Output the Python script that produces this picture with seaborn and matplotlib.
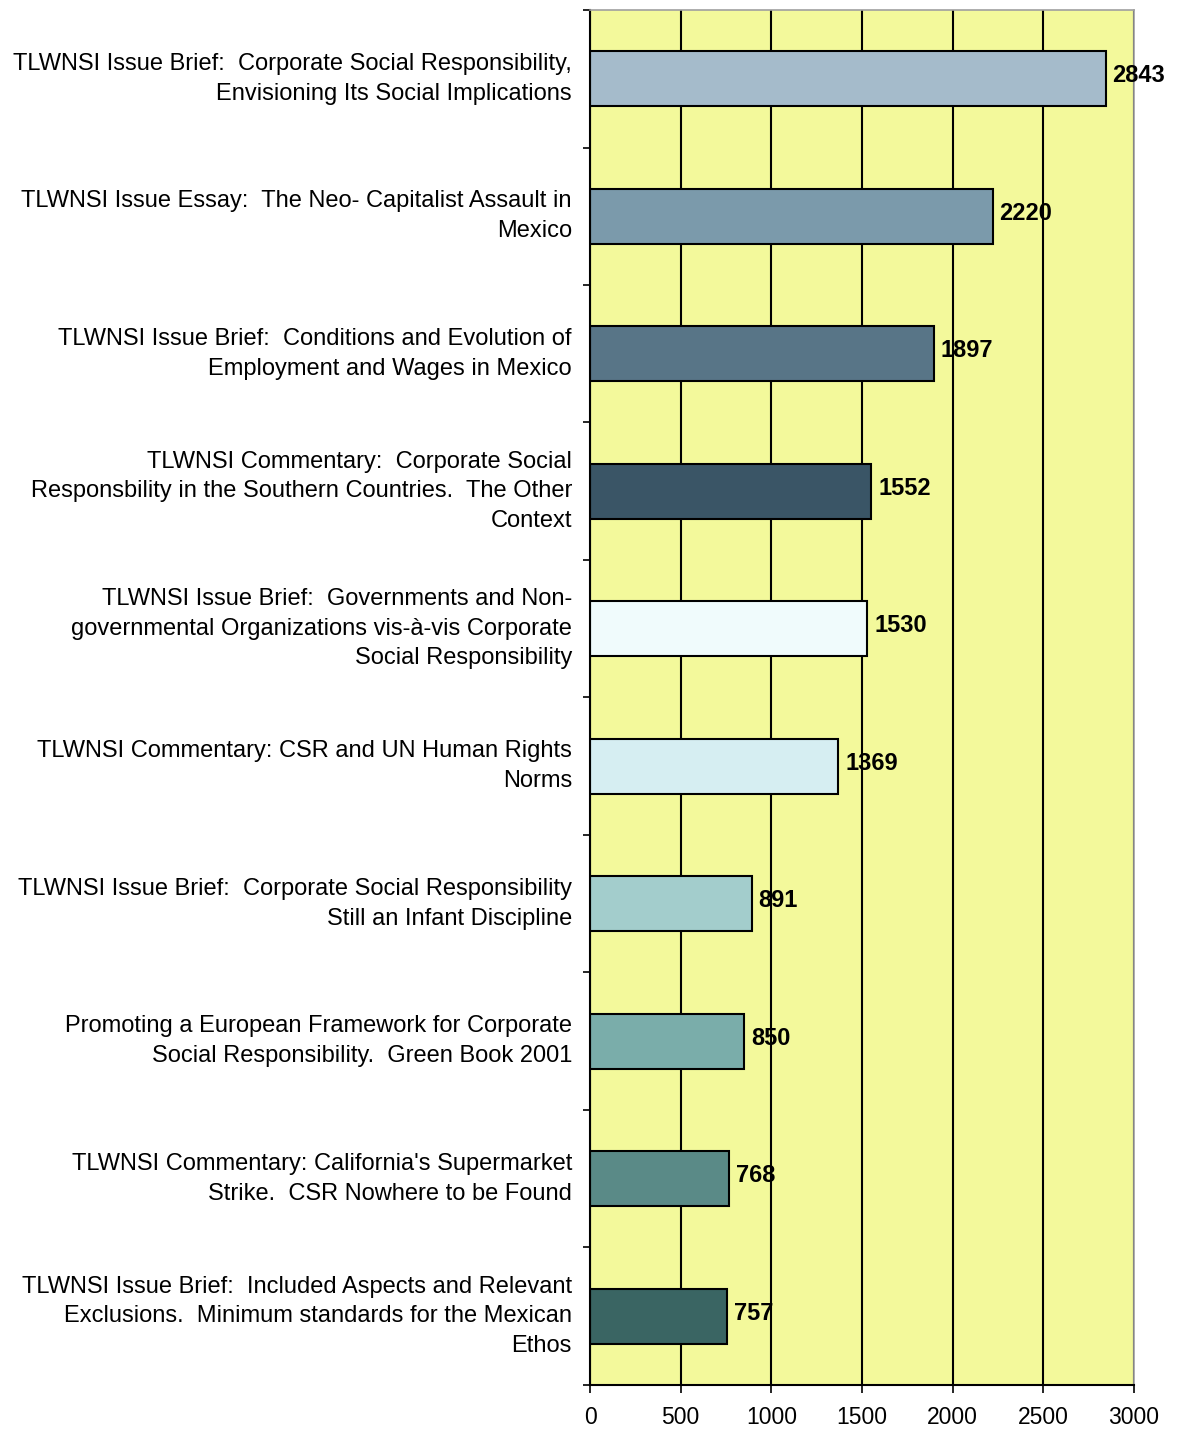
import numpy as np
import pandas as pd
import seaborn as sns
import matplotlib.pyplot as plt
from matplotlib.ticker import MultipleLocator, FixedLocator

# Daten
titles = [
    "TLWNSI Issue Brief:  Corporate Social Responsibility,\nEnvisioning Its Social Implications",
    "TLWNSI Issue Essay:  The Neo- Capitalist Assault in\nMexico",
    "TLWNSI Issue Brief:  Conditions and Evolution of\nEmployment and Wages in Mexico",
    "TLWNSI Commentary:  Corporate Social\nResponsbility in the Southern Countries.  The Other\nContext",
    "TLWNSI Issue Brief:  Governments and Non-\ngovernmental Organizations vis-\u00e0-vis Corporate\nSocial Responsibility",
    "TLWNSI Commentary: CSR and UN Human Rights\nNorms",
    "TLWNSI Issue Brief:  Corporate Social Responsibility\nStill an Infant Discipline",
    "Promoting a European Framework for Corporate\nSocial Responsibility.  Green Book 2001",
    "TLWNSI Commentary: California's Supermarket\nStrike.  CSR Nowhere to be Found",
    "TLWNSI Issue Brief:  Included Aspects and Relevant\nExclusions.  Minimum standards for the Mexican\nEthos",
]
downloads = [2843, 2220, 1897, 1552, 1530, 1369, 891, 850, 768, 757]
bar_colors = ["#A5BBCB", "#7B9AAB", "#587587", "#3A5566", "#F0FBFC",
              "#D6EEF2", "#A3CDCC", "#7AADAA", "#5A8A87", "#3A6563"]

df = pd.DataFrame({"title": titles, "downloads": downloads})

sns.set_style("white")
plt.rcParams["font.family"] = ["Liberation Sans", "DejaVu Sans"]
plt.rcParams["text.color"] = "black"
plt.rcParams["xtick.color"] = "black"
plt.rcParams["ytick.color"] = "black"

fig = plt.figure(figsize=(11.82, 14.29), dpi=100)
ax = fig.add_axes([0.4992, 0.0308, 0.4602, 0.9622])

sns.barplot(data=df, x="downloads", y="title", hue="title", palette=bar_colors,
            saturation=1, legend=False, width=0.4, edgecolor="black", linewidth=1.5,
            orient="h", ax=ax)

ax.set_facecolor("#F3F99B")
ax.set_xlim(0, 3000)
ax.set_ylim(len(titles) - 0.5, -0.5)
ax.xaxis.set_major_locator(MultipleLocator(500))
ax.xaxis.grid(True, color="black", linewidth=1.5)
ax.set_axisbelow(True)

# Wertbeschriftungen
for i, v in enumerate(downloads):
    ax.annotate(str(v), xy=(v, i), xytext=(5, 2), textcoords="offset points",
                ha="left", va="center", fontsize=17, fontweight="bold")

ax.set_xlabel("")
ax.set_ylabel("")
ax.tick_params(axis="y", which="major", length=0, pad=13, labelsize=17)
for lab in ax.get_yticklabels():
    lab.set_multialignment("right")
    lab.set_linespacing(1.45)
    lab.set_verticalalignment("center")
ax.yaxis.set_minor_locator(FixedLocator(np.arange(-0.5, len(titles), 1.0)))
ax.tick_params(axis="y", which="minor", left=True, length=5, width=1.2, color="black")
ax.tick_params(axis="x", which="major", bottom=True, length=6, width=1.2, color="black",
               labelsize=16.5, pad=9)

for side in ["left", "bottom"]:
    ax.spines[side].set_color("black")
    ax.spines[side].set_linewidth(1.5)
for side in ["top", "right"]:
    ax.spines[side].set_color("#A0A0A0")
    ax.spines[side].set_linewidth(1.2)

plt.savefig("out.png", dpi=100)
